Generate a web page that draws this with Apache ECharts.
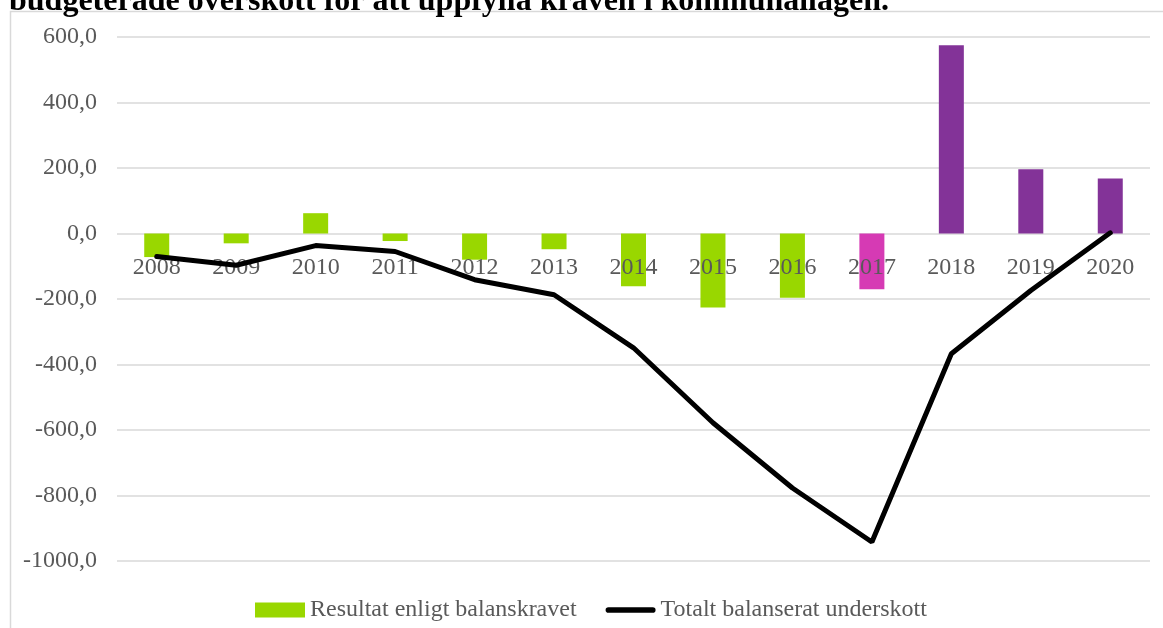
<!DOCTYPE html>
<html>
<head>
<meta charset="utf-8">
<script src="https://cdn.jsdelivr.net/npm/echarts@6/dist/echarts.min.js"></script>
<style>
  html, body { margin: 0; padding: 0; background: #fff; }
  #chart { width: 1163px; height: 628px; }
</style>
</head>
<body>
<div id="chart"></div>
<script>
// år
const years = ["2008", "2009", "2010", "2011", "2012", "2013", "2014",
  "2015", "2016", "2017", "2018", "2019", "2020"];
// Resultat enligt balanskravet
const resultat = [-72, -30, 62, -23, -80, -48, -161, -226, -196, -170, 575, 196, 168];
// Totalt balanserat underskott
const underskott = [-70, -97, -37, -55, -141, -187, -349, -578, -777, -942, -367, -174, 2];
const yTicks = { min: -1000, max: 600, step: 200 };

const serif = '"Liberation Serif", "DejaVu Serif", serif';
const gridTop = 37, gridBottom = 67, chartH = 628;
// flytta x-axeln upp till nollan
const zeroOffset = -((0 - yTicks.min) / (yTicks.max - yTicks.min)) * (chartH - gridTop - gridBottom);

function barColor(p) {
  const y = Number(years[p.dataIndex]);
  if (y >= 2018) return "#833398";
  if (y === 2017) return "#D63AB4";
  return "#99D700";
}

const myChart = echarts.init(document.getElementById("chart"));
const option = {
  animation: false,
  backgroundColor: "#fff",
  textStyle: { fontFamily: serif },
  graphic: [
    {
      type: "rect",
      shape: { x: 10.5, y: 11.5, width: 1200, height: 700 },
      style: { fill: "none", stroke: "#d9d9d9", lineWidth: 1.5 },
      silent: true,
    },
    {
      type: "text",
      left: 9,
      top: -14,
      style: {
        text: "budgeterade överskott för att uppfylla kraven i kommunallagen.",
        font: 'bold 32px "Liberation Serif", serif',
        fill: "#000",
      },
    },
  ],
  grid: {
    left: 117,
    right: 13,
    top: gridTop,
    bottom: gridBottom,
  },
  legend: {
    bottom: 1,
    left: 250,
    itemGap: 29,
    itemWidth: 50,
    itemHeight: 15,
    textStyle: { fontFamily: serif, fontSize: 24, color: "#595959" },
    data: [
      { name: "Resultat enligt balanskravet", icon: "rect", itemStyle: { color: "#99D700" } },
      {
        name: "Totalt balanserat underskott",
        icon: "path://M3,0 L50,0 A3,3 0 0 1 50,6 L3,6 A3,3 0 0 1 3,0 Z",
        symbolKeepAspect: true,
        itemStyle: { color: "#000" },
      },
    ],
  },
  xAxis: {
    type: "category",
    data: years,
    offset: zeroOffset,
    axisLine: { show: false },
    axisTick: { show: false },
    axisLabel: {
      color: "#595959",
      fontSize: 24,
      fontFamily: serif,
      margin: 22,
      interval: 0,
    },
    z: 5,
  },
  yAxis: {
    type: "value",
    min: yTicks.min,
    max: yTicks.max,
    interval: yTicks.step,
    axisLine: { show: false },
    axisTick: { show: false },
    splitLine: { lineStyle: { color: "#d9d9d9", width: 1.5 } },
    axisLabel: {
      color: "#595959",
      fontSize: 24,
      fontFamily: serif,
      margin: 20,
      formatter: (v) => v.toFixed(1).replace(".", ","),
    },
  },
  series: [
    {
      name: "Resultat enligt balanskravet",
      type: "bar",
      data: resultat,
      barWidth: 25,
      itemStyle: { color: barColor },
      z: 2,
    },
    {
      name: "Totalt balanserat underskott",
      type: "line",
      data: underskott,
      showSymbol: false,
      symbol: "none",
      lineStyle: { color: "#000", width: 5, cap: "round" },
      itemStyle: { color: "#000" },
      z: 6,
    },
  ],
};
myChart.setOption(option);
</script>
</body>
</html>
